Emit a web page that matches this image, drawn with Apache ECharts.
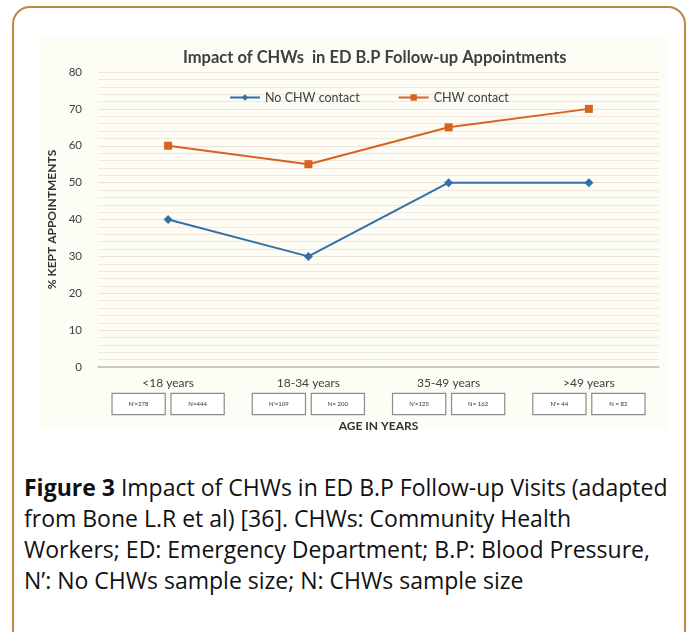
<!DOCTYPE html>
<html lang="en">
<head>
    <meta charset="UTF-8">
    <title>Impact of CHWs in ED B.P Follow-up Appointments</title>
    <script src="https://cdn.jsdelivr.net/npm/echarts@6/dist/echarts.min.js"></script>
    <style>
        html, body {
            margin: 0;
            padding: 0;
            width: 688px;
            height: 632px;
            overflow: hidden;
            background: #ffffff;
        }
        .frame {
            position: absolute;
            left: 12px;
            top: 6px;
            width: 670px;
            height: 640px;
            border: 2px solid #b8893f;
            border-radius: 18px;
        }
        #main {
            position: absolute;
            left: 40px;
            top: 38px;
            width: 628px;
            height: 392px;
            background-color: #fdfcf5;
        }
        .caption {
            position: absolute;
            left: 24px;
            top: 472px;
            width: 660px;
            font-family: "Open Sans", sans-serif;
            font-size: 23px;
            line-height: 31px;
            color: #111;
            white-space: nowrap;
        }
    </style>
</head>
<body>
    <div class="frame"></div>
    <div id="main"></div>
    <div class="caption">
        <b>Figure 3</b> Impact of CHWs in ED B.P Follow-up Visits (adapted<br>
        from Bone L.R et al) [36]. CHWs: Community Health<br>
        Workers; ED: Emergency Department; B.P: Blood Pressure,<br>
        N’: No CHWs sample size; N: CHWs sample size
    </div>
    <script>
        var categories = ['<18 years', '18-34 years', '35-49 years', '>49 years'];
        var noChwContact = [40, 30, 50, 50];
        var chwContact = [60, 55, 65, 70];
        var nPrimeLabels = ["N'=278", "N'=109", "N'=125", "N'= 44"];
        var nLabels = ['N=444', 'N= 200', 'N= 162', 'N = 82'];
        var yTicks = [0, 10, 20, 30, 40, 50, 60, 70, 80];

        var font = 'Lato, "Open Sans", sans-serif';
        var chart = echarts.init(document.getElementById('main'));

        var option = {
            animation: false,
            textStyle: { fontFamily: font },
            title: {
                text: 'Impact of CHWs  in ED B.P Follow-up Appointments',
                left: 138,
                top: 6,
                textStyle: {
                    fontFamily: font,
                    fontSize: 16.5,
                    fontWeight: 'bold',
                    color: '#404040'
                }
            },
            legend: {
                left: 184,
                top: 48,
                itemWidth: 30,
                itemHeight: 8,
                itemGap: 38,
                textStyle: { fontFamily: font, fontSize: 12.5, color: '#404040' },
                data: ['No CHW contact', 'CHW contact']
            },
            grid: {
                left: 58,
                right: 9,
                top: 34,
                bottom: 63,
                outerBoundsMode: 'none'
            },
            xAxis: {
                type: 'category',
                data: categories,
                boundaryGap: true,
                axisLine: { lineStyle: { color: '#bdbdbd', width: 1.5 } },
                axisTick: { show: false },
                name: 'AGE IN YEARS',
                nameLocation: 'middle',
                nameGap: 45,
                nameTextStyle: {
                    fontFamily: font,
                    fontSize: 12,
                    fontWeight: 'bold',
                    color: '#333'
                },
                axisLabel: {
                    margin: 8,
                    interval: 0,
                    formatter: function (value, index) {
                        return '{cat|' + value + '}\n{box|' + nPrimeLabels[index] + '}{gap| }{box|' + nLabels[index] + '}';
                    },
                    rich: {
                        cat: {
                            fontFamily: font,
                            fontSize: 12,
                            color: '#404040',
                            lineHeight: 17
                        },
                        box: {
                            fontFamily: font,
                            fontSize: 6,
                            color: '#333',
                            width: 52,
                            height: 20,
                            lineHeight: 24,
                            align: 'center',
                            borderColor: '#8c8c8c',
                            borderWidth: 1.2,
                            backgroundColor: '#ffffff'
                        },
                        gap: {
                            width: 7,
                            fontSize: 6
                        }
                    }
                }
            },
            yAxis: {
                type: 'value',
                min: yTicks[0],
                max: yTicks[yTicks.length - 1],
                interval: 10,
                name: '% KEPT APPOINTMENTS',
                nameLocation: 'middle',
                nameGap: 29,
                nameTextStyle: {
                    fontFamily: font,
                    fontSize: 12,
                    fontWeight: 'bold',
                    color: '#333'
                },
                axisLine: { show: false },
                axisTick: { show: false },
                axisLabel: {
                    margin: 16,
                    fontSize: 11.5,
                    color: '#404040'
                },
                splitLine: { lineStyle: { color: '#ebe3d8', width: 1 } },
                minorTick: { show: false, splitNumber: 5 },
                minorSplitLine: { show: true, lineStyle: { color: '#efe8de', width: 1 } }
            },
            series: [
                {
                    name: 'No CHW contact',
                    type: 'line',
                    data: noChwContact,
                    symbol: 'diamond',
                    symbolSize: 9,
                    color: '#3470a8',
                    lineStyle: { width: 2 },
                    z: 3
                },
                {
                    name: 'CHW contact',
                    type: 'line',
                    data: chwContact,
                    symbol: 'rect',
                    symbolSize: 8,
                    color: '#d9621f',
                    lineStyle: { width: 2 },
                    z: 3
                }
            ]
        };

        chart.setOption(option);
    </script>
</body>
</html>
